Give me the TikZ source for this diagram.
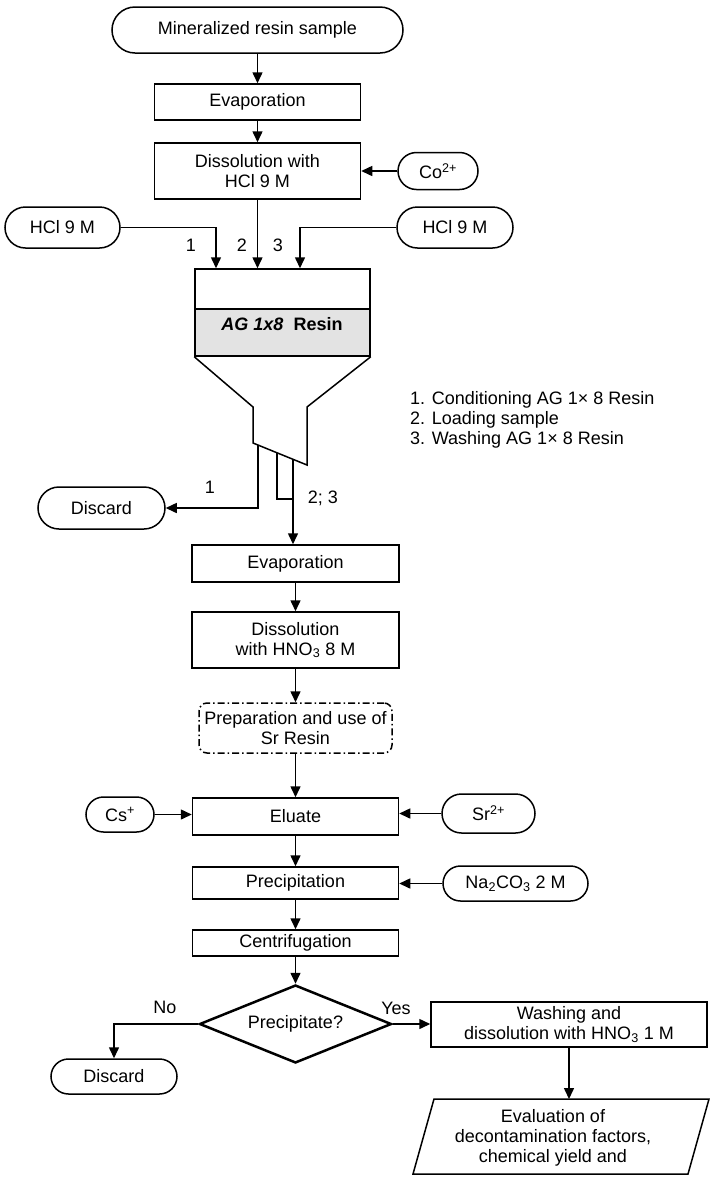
\documentclass[tikz,border=0pt]{standalone}
\usepackage{fontspec}
\setmainfont{Liberation Sans}
\usetikzlibrary{arrows.meta,shapes.geometric}
\newcommand\fs{\fontsize{18bp}{20bp}\selectfont}
\tikzset{
  boxline/.style={line width=1.5bp},
  proc/.style={draw, boxline, rectangle},
  term/.style={draw, boxline, rectangle, rounded corners=#1},
  arr/.style={boxline, -{Triangle[length=11bp,width=10bp]}},
}
\begin{document}
\begin{tikzpicture}[x=1bp,y=-1bp,
  every node/.style={font=\fs, inner sep=0pt, align=center}]
\useasboundingbox[fill=white] (0,0) rectangle (714,1182);

% top part
\node[term=23bp, minimum width=291bp, minimum height=46bp] (top) at (257.5,30) {Mineralized resin sample};
\node[proc, minimum width=206bp, minimum height=36bp] (ev1) at (257.5,102) {Evaporation};
\node[proc, minimum width=206bp, minimum height=56bp] (dis1) at (257.5,171) {Dissolution with\\HCl 9 M};
\node[term=18.5bp, minimum width=80bp, minimum height=37bp] (co) at (438,171) {Co\textsuperscript{2+}};
\node[term=20.5bp, minimum width=115bp, minimum height=41bp] (hclL) at (62.5,227.5) {HCl 9 M};
\node[term=20.5bp, minimum width=116bp, minimum height=41bp] (hclR) at (455,227.5) {HCl 9 M};

% column
\node[proc, minimum width=175bp, minimum height=40bp] (coltop) at (282.5,289) {};
\node[proc, fill=gray!22, minimum width=175bp, minimum height=47bp] (resin) at (282.5,332.5) {};
\node (resintxt) at (282,324) {\bfseries\itshape AG 1x8\ \ \upshape Resin};
\draw[boxline] (resin.south west) -- (253,407) -- (253,443) -- (307,465) -- (307,407) -- (resin.south east);

\coordinate (o1) at (258,445);
\coordinate (o2) at (277,452.8);
\coordinate (o3) at (293,459.3);
\coordinate (j23) at (293,499);

\draw[arr] (top) -- (ev1);
\draw[arr] (ev1) -- (dis1);
\draw[arr] (co) -- (dis1);
\draw[arr] (dis1.south) -- (dis1.south |- coltop.north);
\draw[arr] (hclL.east) -| ([xshift=-66.5bp]coltop.north);
\draw[arr] (hclR.west) -| ([xshift=17.5bp]coltop.north);
\node (l1) at (191,245) {1};
\node (l2) at (242,245) {2};
\node (l3) at (278,245) {3};

\node[anchor=west, align=left] (legend) at (410,420) {1. Conditioning AG 1\texttimes{} 8 Resin\\2. Loading sample\\3. Washing AG 1\texttimes{} 8 Resin};

\node[term=21bp, minimum width=127bp, minimum height=42bp] (dsc1) at (101.5,508) {Discard};
\node (lo1) at (210,487) {1};
\node (lo23) at (323,498) {2; 3};

% lower part
\node[proc, minimum width=207bp, minimum height=37bp] (ev2) at (295.5,563.5) {Evaporation};
\node[proc, minimum width=207bp, minimum height=56bp] (dis2) at (295.5,640) {Dissolution\\with HNO\textsubscript{3} 8 M};
\node[draw, boxline, rounded corners=8bp, dash pattern=on 7bp off 3bp on 1.5bp off 3bp, minimum width=193bp, minimum height=50bp] (prep) at (295.5,728) {Preparation and use of\\Sr Resin};
\node[proc, minimum width=206bp, minimum height=37bp] (elu) at (295.5,816.5) {Eluate};
\node[term=17.5bp, minimum width=68bp, minimum height=35bp] (cs) at (120,814.5) {Cs\textsuperscript{+}};
\node[term=19.5bp, minimum width=93bp, minimum height=39bp] (sr) at (488.5,813.5) {Sr\textsuperscript{2+}};
\node[proc, minimum width=206bp, minimum height=32bp] (prc) at (295.5,883) {Precipitation};
\node[term=17.5bp, minimum width=145bp, minimum height=35bp] (na) at (515.5,883.5) {Na\textsubscript{2}CO\textsubscript{3} 2 M};
\node[proc, minimum width=206bp, minimum height=26bp] (cen) at (295.5,943) {Centrifugation};
\node[draw, diamond, aspect=2.46, line width=2.5bp, minimum width=192bp, minimum height=78bp] (dia) at (295.5,1024) {Precipitate?};
\node[term=17.5bp, minimum width=126bp, minimum height=35bp] (dsc2) at (114,1076.5) {Discard};
\node[proc, minimum width=276bp, minimum height=45bp] (wash) at (569,1024.5) {Washing and\\dissolution with HNO\textsubscript{3} 1 M};
\coordinate (evtop) at (569,1099);
\draw[boxline] (434,1099) -- (709,1099) -- (688,1174) -- (413,1174) -- cycle;
\node (evaltxt) at (553,1137.5) {Evaluation of\\decontamination factors,\\chemical yield and};

\draw[arr] (o1) |- (dsc1.east);
\draw[boxline] (o2) |- (j23);
\draw[arr] (o3) -- (o3 |- ev2.north);
\draw[arr] (ev2) -- (dis2);
\draw[arr] (dis2) -- (prep);
\draw[arr] (prep) -- (elu);
\draw[arr] (cs.east) -- (cs.east -| elu.west);
\draw[arr] (sr.west) -- (sr.west -| elu.east);
\draw[arr] (elu) -- (prc);
\draw[arr] (na.west) -- (na.west -| prc.east);
\draw[arr] (prc) -- (cen);
\draw[arr] (cen) -- (dia);
\draw[arr] (dia.east) -- (dia.east -| wash.west);
\draw[arr] (dia.west) -| (dsc2.north);
\draw[arr] (wash.south) -- (evtop);
\node (no) at (165,1007) {No};
\node (yes) at (396,1008) {Yes};
\end{tikzpicture}
\end{document}
